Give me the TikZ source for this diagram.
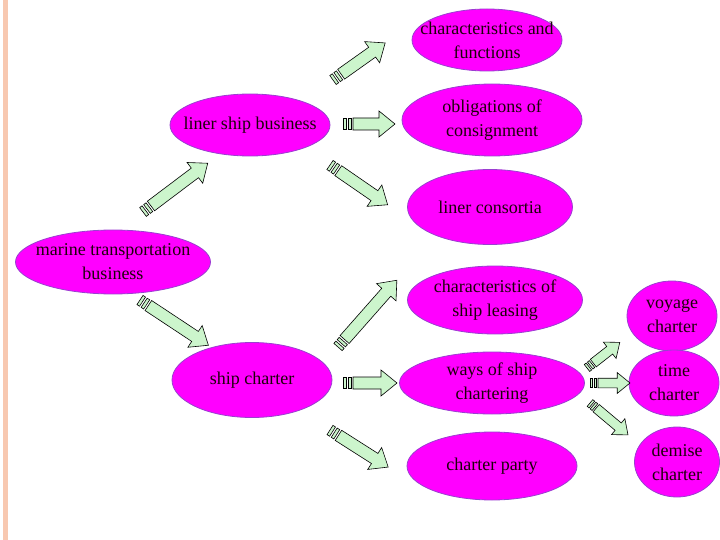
\documentclass[tikz,border=0pt]{standalone}
\usepackage{fontspec}
\setmainfont{Liberation Serif}
\usetikzlibrary{shapes.geometric}
\definecolor{mag}{HTML}{FF00FF}
\definecolor{edge}{HTML}{9A3FD0}
\definecolor{mint}{HTML}{CCF5CC}
\definecolor{peach}{HTML}{F8C8B0}
\tikzset{
  oval/.style={ellipse, fill=mag, draw=edge, line width=0.8pt, inner sep=0pt},
  txt/.style={align=center, font=\fontsize{18}{24}\selectfont, text=black!85!purple, inner sep=0pt},
  barrow/.pic={
    \def\L{#1}
    \draw[fill=mint, line width=0.6pt] (0,-5.5) rectangle (3,5.5);
    \draw[fill=mint, line width=0.6pt] (5,-5.5) rectangle (8,5.5);
    \draw[fill=mint, line width=0.6pt] (10,-6) -- ({\L-16},-6) -- ({\L-16},-13) -- (\L,0) -- ({\L-16},13) -- ({\L-16},6) -- (10,6) -- cycle;
  }
}
\newcommand{\myoval}[5]{\node[oval, minimum width=#3, minimum height=#4] (#1) at #2 {}; \node[txt] (#1t) at (#1) {#5};}
\begin{document}
\begin{tikzpicture}[x=1pt,y=-1pt]
\useasboundingbox (0,0) rectangle (720,540);
\fill[peach] (3,0) rectangle (8,540);
\myoval{cf}{(487,40)}{150}{62}{characteristics and\\functions}
\myoval{lsb}{(250,125)}{160}{62}{liner ship business}
\myoval{oc}{(492,120)}{180}{72}{obligations of\\consignment}
\myoval{lc}{(490,207)}{165}{75}{liner consortia}
\myoval{mtb}{(113,262)}{195}{64}{marine transportation\\business}
\myoval{csl}{(495,300)}{175}{68}{characteristics of\\ship leasing}
\myoval{sc}{(252,380)}{160}{75}{ship charter}
\myoval{wsc}{(492,383)}{185}{62}{ways of ship\\chartering}
\myoval{cp}{(492,466)}{170}{68}{charter party}
\myoval{vc}{(672,316)}{90}{70}{voyage\\charter}
\myoval{tc}{(674,383)}{90}{66}{time\\charter}
\myoval{dc}{(677,462)}{85}{70}{demise\\charter}
\coordinate (a1) at (333,80);  \pic[rotate=35.4] at (a1) {barrow=64};
\coordinate (a2) at (343,124); \pic at (a2) {barrow=52};
\coordinate (a3) at (330,165); \pic[rotate=-34.6] at (a3) {barrow=70};
\coordinate (a4) at (143,212); \pic[rotate=37] at (a4) {barrow=81};
\coordinate (a5) at (140,300); \pic[rotate=-33.5] at (a5) {barrow=82};
\coordinate (a6) at (338,347); \pic[rotate=48.6] at (a6) {barrow=89};
\coordinate (a7) at (343,383); \pic at (a7) {barrow=54};
\coordinate (a8) at (330,430); \pic[rotate=-32.5] at (a8) {barrow=69};
\coordinate (a9) at (587,368); \pic[rotate=38,scale=0.8] at (a9) {barrow=52};
\coordinate (a10) at (590,383); \pic[scale=0.8] at (a10) {barrow=50};
\coordinate (a11) at (590,403); \pic[rotate=-40,scale=0.8] at (a11) {barrow=62};
\end{tikzpicture}
\end{document}
